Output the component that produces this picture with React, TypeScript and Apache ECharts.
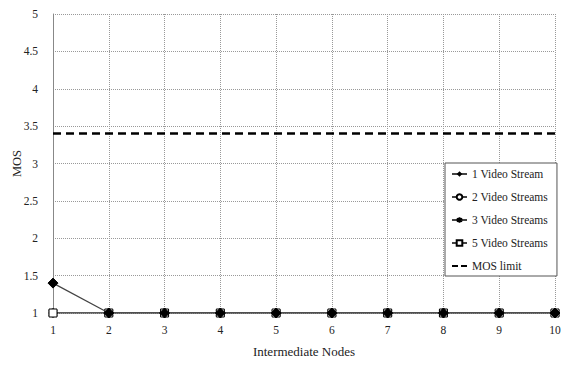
import React, { useEffect, useRef } from "react";
import * as echarts from "echarts";

const nodes = [1, 2, 3, 4, 5, 6, 7, 8, 9, 10];
const oneStream = [1.4, 1, 1, 1, 1, 1, 1, 1, 1, 1];
const twoStreams = [1, 1, 1, 1, 1, 1, 1, 1, 1, 1];
const threeStreams = [1, 1, 1, 1, 1, 1, 1, 1, 1, 1];
const fiveStreams = [1, 1, 1, 1, 1, 1, 1, 1, 1, 1];
const mosLimit = 3.4;
const seriesNames = ["1 Video Stream", "2 Video Streams", "3 Video Streams", "5 Video Streams", "MOS limit"];

const FONT = "Liberation Serif";
const ASTERISK = "path://M5,0L5,10M0.7,2.5L9.3,7.5M0.7,7.5L9.3,2.5";

export default function App() {
  const ref = useRef<HTMLDivElement>(null);
  useEffect(() => {
    const chart = echarts.init(ref.current!, null, { renderer: "svg" });
    const pts = (arr: number[]) => nodes.map((n, i) => [n, arr[i]]);
    const base = {
      type: "line",
      lineStyle: { color: "#444", width: 1.2 },
      itemStyle: { color: "#000", borderColor: "#000" },
      z: 3,
    };
    chart.setOption({
      animation: false,
      backgroundColor: "#fff",
      textStyle: { fontFamily: FONT },
      grid: { left: 53, right: 9, top: 14, bottom: 65, outerBoundsMode: "none", containLabel: false },
      xAxis: {
        type: "value",
        min: 1,
        max: 10,
        interval: 1,
        name: "Intermediate Nodes",
        nameLocation: "middle",
        nameGap: 32,
        nameMoveOverlap: false,
        nameTextStyle: { fontFamily: FONT, fontSize: 13, color: "#222" },
        axisLine: { show: false },
        axisTick: { show: false },
        axisLabel: { fontFamily: FONT, fontSize: 11.5, color: "#222", margin: 11 },
        splitLine: { show: true, lineStyle: { type: "dotted", color: "#999", width: 1 } },
      },
      yAxis: {
        type: "value",
        min: 1,
        max: 5,
        interval: 0.5,
        name: "MOS",
        nameLocation: "middle",
        nameGap: 30,
        nameMoveOverlap: false,
        nameTextStyle: { fontFamily: FONT, fontSize: 12.5, color: "#222" },
        axisLine: { show: true, lineStyle: { color: "#888", width: 1 } },
        axisTick: { show: false },
        axisLabel: { fontFamily: FONT, fontSize: 11.5, color: "#222", margin: 15 },
        splitLine: { show: true, lineStyle: { type: "dotted", color: "#999", width: 1 } },
      },
      legend: {
        orient: "vertical",
        left: 445,
        top: 163,
        padding: [5, 9, 4, 6],
        itemGap: 11,
        itemWidth: 15,
        itemHeight: 7,
        backgroundColor: "#fff",
        borderColor: "#555",
        borderWidth: 1,
        textStyle: { fontFamily: FONT, fontSize: 11.5, color: "#222" },
        data: [
          { name: seriesNames[0] },
          { name: seriesNames[1] },
          { name: seriesNames[2] },
          { name: seriesNames[3] },
          { name: seriesNames[4], icon: "path://M0,0h6v2h-6zM9,0h6v2h-6z" },
        ],
      },
      series: [
        {
          ...base,
          name: seriesNames[0],
          data: pts(oneStream),
          symbol: "diamond",
          symbolSize: 10,
          z: 5,
        },
        {
          ...base,
          name: seriesNames[1],
          data: pts(twoStreams),
          symbol: "circle",
          symbolSize: 8,
          itemStyle: { color: "#fff", borderColor: "#000", borderWidth: 1 },
        },
        {
          ...base,
          name: seriesNames[2],
          data: pts(threeStreams),
          symbol: ASTERISK,
          symbolSize: 9,
          itemStyle: { color: "none", borderColor: "#000", borderWidth: 1 },
        },
        {
          ...base,
          name: seriesNames[3],
          data: pts(fiveStreams),
          symbol: "rect",
          symbolSize: 8,
          itemStyle: { color: "#fff", borderColor: "#000", borderWidth: 1 },
          z: 4,
        },
        {
          type: "line",
          name: seriesNames[4],
          data: [[1, mosLimit], [10, mosLimit]],
          symbol: "none",
          lineStyle: { color: "#000", width: 2.5, type: [8, 5] },
          itemStyle: { color: "#000" },
          z: 2,
        },
      ],
    });
    return () => chart.dispose();
  }, []);
  return <div ref={ref} style={{ width: 564, height: 378, position: "absolute", left: 0, top: 0 }} />;
}
